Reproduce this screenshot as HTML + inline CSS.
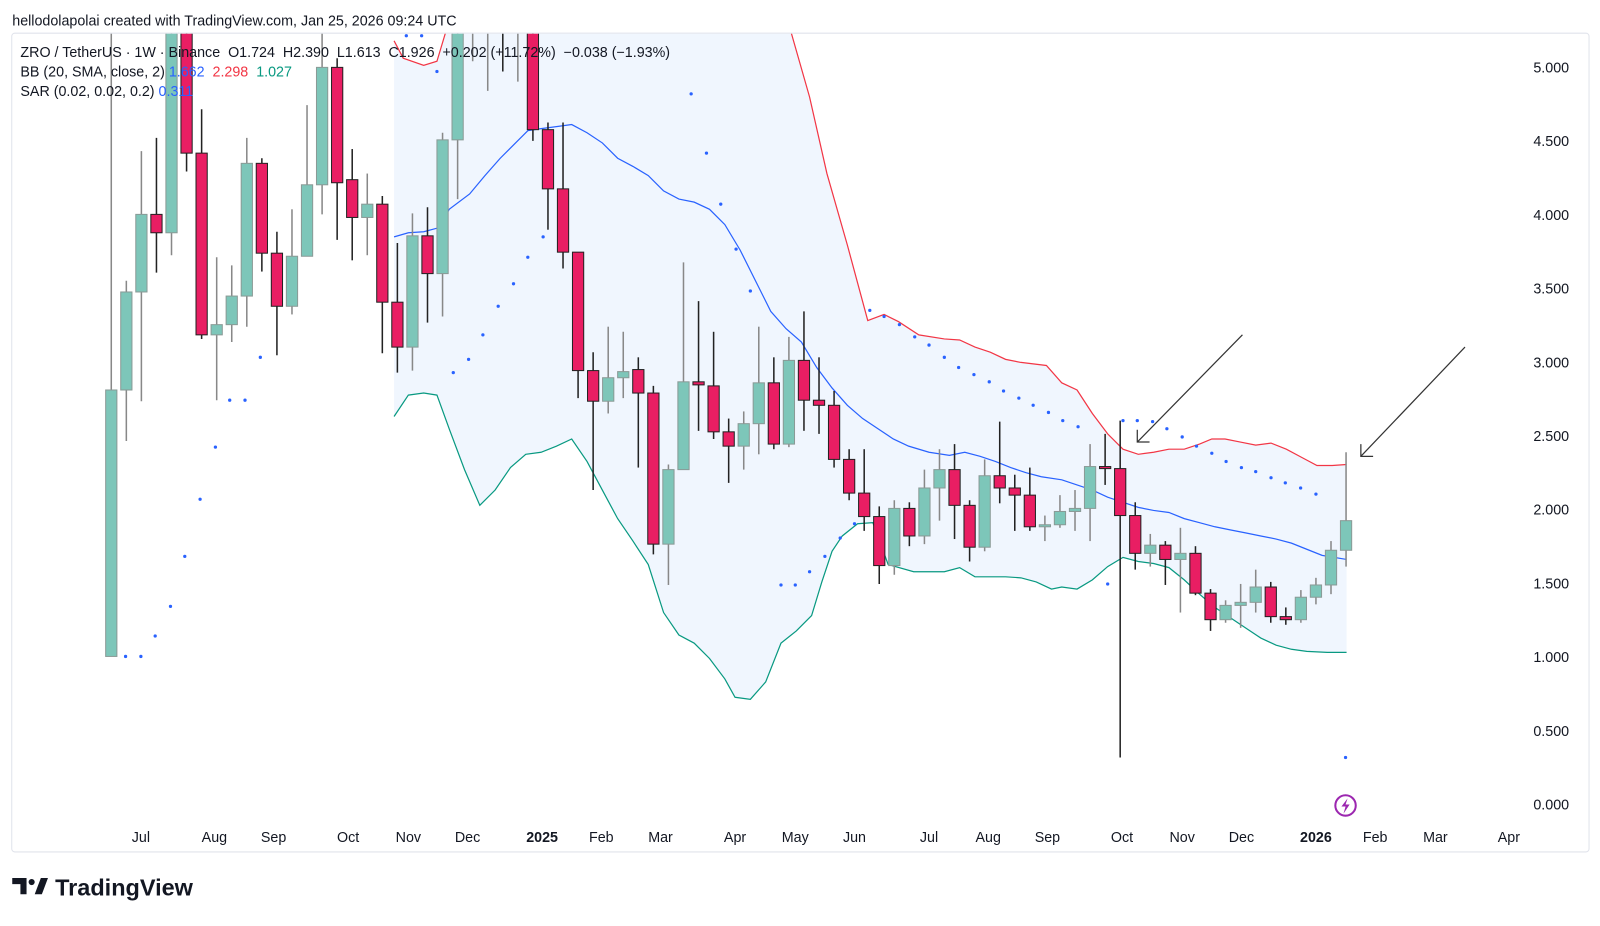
<!DOCTYPE html>
<html><head><meta charset="utf-8">
<style>
html,body{margin:0;padding:0;background:#fff;}
body{width:1600px;height:921px;overflow:hidden;font-family:"Liberation Sans",sans-serif;}
</style></head>
<body>
<svg id="s" width="1600" height="921" xmlns="http://www.w3.org/2000/svg" font-family="Liberation Sans, sans-serif">
<defs><clipPath id="c"><rect x="12" y="33" width="1490" height="800"/></clipPath></defs>
<g transform="scale(1.0209)">
<text x="12" y="25" font-size="14" fill="#131722">hellodolapolai created with TradingView.com, Jan 25, 2026 09:24 UTC</text>
<rect x="11.5" y="32.5" width="1545" height="802" fill="none" stroke="#e0e3eb" rx="3"/>
<g id="plot" clip-path="url(#c)"></g>
<g id="ax" font-size="14" fill="#131722"></g>
<g font-size="14" fill="#131722">
<text x="20" y="56">ZRO / TetherUS · 1W · Binance &#160;O1.724 &#160;H2.390 &#160;L1.613 &#160;C1.926 &#160;+0.202 (+11.72%) &#160;−0.038 (−1.93%)</text>
<text x="20" y="75">BB (20, SMA, close, 2) <tspan fill="#2962ff">1.662</tspan> &#160;<tspan fill="#f23645">2.298</tspan> &#160;<tspan fill="#089981">1.027</tspan></text>
<text x="20" y="94">SAR (0.02, 0.02, 0.2) <tspan fill="#2962ff">0.311</tspan></text>
</g>
<g stroke="#333" stroke-width="1.2" fill="none">
<line x1="1217" y1="328" x2="1114" y2="433"/><polyline points="1114,421 1114,433 1126,433"/>
<line x1="1435" y1="340" x2="1333" y2="447"/><polyline points="1333,435 1333,447 1345,447"/>
</g>
<circle cx="1318" cy="789" r="10" fill="#fff" stroke="#9c27b0" stroke-width="2"/>
<path d="M1320,782 L1314,790 L1318,790 L1316,797 L1322,788 L1318,788 Z" fill="#9c27b0"/>
<g fill="#131722">
<path d="M12,860 h14 v16 h-6 v-10 h-8 z"/><circle cx="31" cy="864" r="3"/><path d="M34,876 l6,-16 h7 l-6,16 z"/>
<text x="54" y="877" font-size="23" font-weight="bold">TradingView</text>
</g>
</g>
</svg>
<script>
var C=[
[643,382,32,643],[382,286,275,432],[286,210,148,393],[210,228,135,267],[228,32,32,250],[32,150,32,168],[150,328,107,332],[328,318,252,392],[318,290,260,335],[290,160,135,320],
[160,248,155,266],[248,300,227,348],[300,251,205,308],[251,181,103,247],[181,66,32,210],[66,179,57,235],[176,213,146,255],[213,200,170,250],[200,296,192,346],[296,340,238,365],
[340,231,209,363],[231,268,203,316],[268,137,130,310],[137,20,20,195],[20,10,10,60],[10,5,5,89],[5,8,5,70],[8,3,3,80],[20,127,20,138],[127,185,120,225],
[185,247,120,263],[247,363,248,390],[363,393,345,480],[393,370,320,405],[370,364,325,390],[362,385,350,458],[385,533,378,543],[533,460,455,573],[460,374,257,460],[374,377,295,422],
[378,423,325,430],[423,437,410,473],[437,415,403,460],[415,375,320,445],[375,435,350,440],[435,353,330,438],[353,392,305,422],[392,397,350,425],[397,450,383,458],[450,483,440,490],
[483,506,440,520],[506,554,496,572],[554,498,490,563],[498,525,492,535],[525,478,460,533],[478,460,440,510],[460,495,435,528],[495,536,490,550],[536,466,450,540],[466,478,413,493],
[478,485,465,520],[485,516,458,520],[516,514,505,530],[514,501,485,517],[501,498,480,520],[498,457,435,530],[457,459,425,475],[459,505,412,742],[505,542,492,558],[542,534,523,555],
[534,548,530,573],[548,542,517,600],[542,581,535,583],[581,607,577,618],[607,593,588,610],[593,590,572,615],[590,575,558,600],[575,604,570,610],[604,607,595,612],[607,585,578,610],
[585,573,566,592],[573,539,530,582],[539,510,443,555]];
function X(i){return 109+i*14.75;}
var up=[[386,40],[395,57],[415,64],[428,60],[440,20],[770,20],[775,32],[793,95],[810,170],[830,240],[850,314],[866,308],[880,315],[900,328],[925,332],[940,333],[955,340],[970,345],[985,352],[1000,355],[1025,358],[1040,375],[1055,382],[1070,405],[1085,425],[1100,440],[1115,445],[1130,443],[1145,440],[1160,440],[1175,435],[1187,430],[1200,430],[1215,433],[1230,436],[1245,434],[1260,440],[1275,448],[1290,456],[1305,456],[1319,455]];
var mid=[[386,232],[400,228],[415,227],[430,223],[440,205],[460,190],[475,172],[490,155],[505,140],[517,128],[530,126],[545,124],[560,122],[575,130],[590,140],[605,155],[620,163],[635,172],[650,187],[665,195],[680,198],[695,205],[710,220],[725,245],[740,275],[755,305],[770,322],[785,335],[800,360],[815,380],[830,397],[845,410],[860,420],[875,430],[890,437],[910,443],[930,446],[945,443],[960,447],[975,452],[990,458],[1005,463],[1020,467],[1040,470],[1055,475],[1070,480],[1085,487],[1100,492],[1115,497],[1130,500],[1145,502],[1160,508],[1175,512],[1190,516],[1205,519],[1220,522],[1235,525],[1250,528],[1265,532],[1280,538],[1295,544],[1319,548]];
var lo=[[386,408],[400,387],[415,385],[428,387],[440,420],[455,460],[470,495],[485,480],[500,458],[515,445],[530,443],[545,437],[560,430],[575,452],[590,480],[605,508],[620,530],[635,553],[650,600],[665,622],[680,630],[695,645],[710,665],[720,683],[735,685],[750,668],[765,630],[780,618],[795,603],[805,570],[815,540],[825,525],[840,513],[855,512],[870,553],[895,560],[910,560],[925,560],[940,556],[955,565],[970,565],[985,565],[1000,566],[1015,570],[1030,577],[1040,575],[1055,577],[1070,568],[1085,555],[1100,546],[1115,550],[1130,552],[1145,556],[1160,568],[1175,582],[1190,595],[1205,605],[1220,615],[1235,625],[1250,632],[1265,636],[1280,638],[1300,639],[1319,639]];
var sar=[[123,643],[138,643],[152,623],[167,594],[181,545],[196,489],[211,438],[225,392],[240,392],[255,350],[398,35],[413,35],[428,70],[444,365],[459,352],[473,328],[488,300],[503,278],[517,252],[532,232],[677,92],[692,150],[706,200],[721,244],[735,285],[765,573],[779,573],[793,560],[808,545],[823,527],[837,513],[852,304],[866,310],[881,318],[896,330],[910,338],[925,350],[939,360],[954,367],[969,374],[983,383],[998,390],[1012,397],[1027,404],[1041,412],[1056,418],[1085,572],[1100,412],[1114,412],[1129,413],[1143,420],[1158,428],[1172,437],[1187,444],[1201,452],[1216,458],[1230,462],[1245,468],[1259,473],[1274,478],[1289,484],[1318,742]];
var h='';
function pts(a){return a.map(function(p){return p[0]+','+p[1];}).join(' ');}
h+='<polygon points="'+pts(up)+' '+pts(lo.slice().reverse())+'" fill="#f0f6fe"/>';
h+='<polyline points="'+pts(up)+'" fill="none" stroke="#f23645" stroke-width="1.2"/>';
h+='<polyline points="'+pts(mid)+'" fill="none" stroke="#2962ff" stroke-width="1.2"/>';
h+='<polyline points="'+pts(lo)+'" fill="none" stroke="#089981" stroke-width="1.2"/>';
C.forEach(function(c,i){var x=X(i),o=c[0],cl=c[1],hi=c[2],l=c[3];var g=cl<=o;
var top=Math.min(o,cl),bh=Math.max(1.5,Math.abs(o-cl));
h+='<line x1="'+x+'" y1="'+hi+'" x2="'+x+'" y2="'+l+'" stroke="'+(g?'#888':'#222')+'" stroke-width="1.5"/>';
h+='<rect x="'+(x-5.5)+'" y="'+top+'" width="11" height="'+bh+'" fill="'+(g?'#7dc6b9':'#e91e63')+'" stroke="'+(g?'#8a9a96':'#222')+'" stroke-width="1"/>';});
sar.forEach(function(p){h+='<circle cx="'+p[0]+'" cy="'+p[1]+'" r="1.6" fill="#2962ff"/>';});
document.getElementById('plot').innerHTML=h;
var a='';
for(var k=0;k<=10;k++){var v=(k*0.5).toFixed(3);a+='<text x="1537" y="'+(793-72.2*k)+'" text-anchor="end">'+v+'</text>';}
var L=[['Jul',138],['Aug',210],['Sep',268],['Oct',341],['Nov',400],['Dec',458],['2025',531,1],['Feb',589],['Mar',647],['Apr',720],['May',779],['Jun',837],['Jul',910],['Aug',968],['Sep',1026],['Oct',1099],['Nov',1158],['Dec',1216],['2026',1289,1],['Feb',1347],['Mar',1406],['Apr',1478]];
L.forEach(function(l){a+='<text x="'+l[1]+'" y="825" text-anchor="middle"'+(l[2]?' font-weight="bold"':'')+'>'+l[0]+'</text>';});
document.getElementById('ax').innerHTML=a;
</script>
</body></html>
